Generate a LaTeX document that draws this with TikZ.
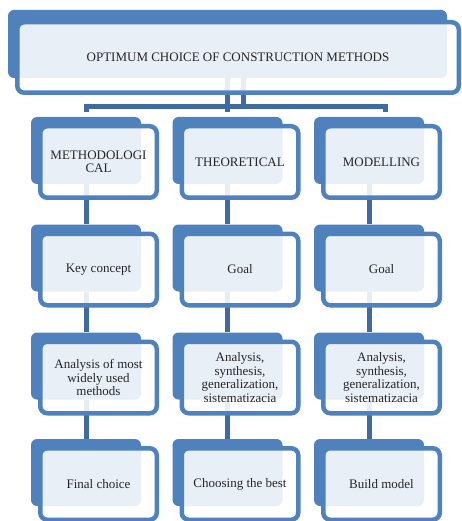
\documentclass[tikz,border=0pt]{standalone}
\usepackage{fontspec}
\setmainfont{Liberation Serif}
\usetikzlibrary{backgrounds}
\definecolor{boxblue}{RGB}{79,129,189}
\definecolor{linkblue}{RGB}{64,107,160}
\tikzset{
  backbox/.style={fill=boxblue,rounded corners=6pt,minimum width=110pt,minimum height=67pt,inner sep=0pt},
  frontbox/.style={draw=boxblue,line width=4.5pt,fill=white,fill opacity=.88,text opacity=1,
    rounded corners=7pt,minimum width=116.5pt,minimum height=71.5pt,inner sep=0pt,
    align=center,text=black!85,font=\fontsize{13}{13.5}\selectfont},
  link/.style={linkblue,line width=5pt}
}
\begin{document}
\begin{tikzpicture}[x=1pt,y=-1pt]
 \useasboundingbox (0,0) rectangle (461,521);
 % top box
 \node[backbox,minimum width=439pt,minimum height=68pt] (tb) at (227.5,44) {};
 \node[frontbox,minimum width=441.5pt,minimum height=70.5pt] (t) at (238,57.5) {OPTIMUM CHOICE OF CONSTRUCTION METHODS};
 % three columns, four rows each
 \foreach \c/\x/\la/\lb/\lc/\ld in {
   1/86/{METHODOLOGI\\CAL}/{Key concept}/{Analysis of most\\widely used\\methods}/{Final choice},
   2/227.5/{THEORETICAL}/{Goal}/{Analysis,\\synthesis,\\generalization,\\sistematizacia}/{Choosing the best},
   3/369/{MODELLING}/{Goal}/{Analysis,\\synthesis,\\generalization,\\sistematizacia}/{Build model}}
   \foreach \r/\y/\t in {1/150.5/\la,2/258/\lb,3/366/\lc,4/472.5/\ld} {
     \node[backbox] (b\c\r) at (\x,\y) {};
     \node[frontbox] (f\c\r) at (\x+12.5,\y+11.5) {\t};
   }
 % connectors
 \coordinate (barl) at (86,112);
 \coordinate (barr) at (385,112);
 \begin{scope}[on background layer]
  \draw[link] (tb.south) -- (tb.south |- barl);
  \draw[link] ([xshift=16pt]tb.south) -- ++(0,31);
  \draw[link] (barl) -- ++(0,-5.5) -| (barr);
  \foreach \c in {1,2,3}
    \foreach \r/\s in {1/2,2/3,3/4}
      \draw[link] (b\c\r.south) -- (b\c\s.north);
 \end{scope}
\end{tikzpicture}
\end{document}
